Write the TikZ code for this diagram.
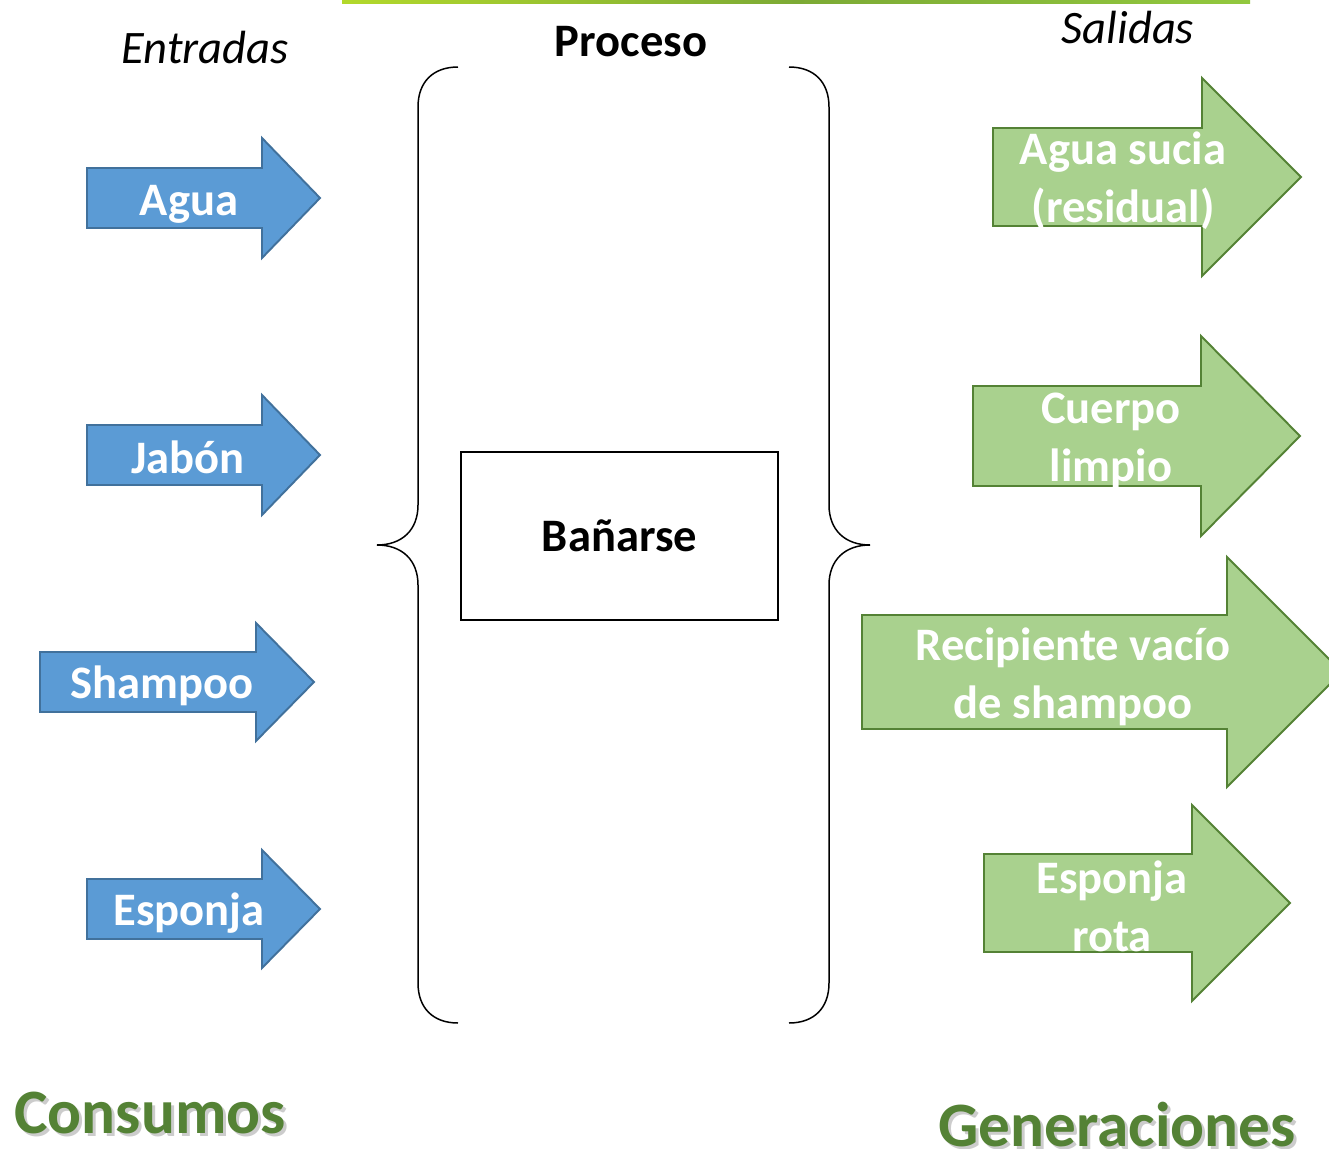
\documentclass[tikz,border=0pt]{standalone}
\usepackage{fontspec}
\setmainfont{Carlito}
\usetikzlibrary{positioning,calc}
\definecolor{blue(arrow)}{RGB}{91,155,213}
\definecolor{blue(edge)}{RGB}{65,113,156}
\definecolor{green(arrow)}{RGB}{169,209,142}
\definecolor{green(edge)}{RGB}{84,130,53}
\definecolor{lime(bar)}{RGB}{146,200,62}
% arrow shape: style, tail x, head x, tip x, centre y, half body, half head
\newcommand{\flecha}[7]{\draw[#1] (#2,#5-#6) -- (#3,#5-#6) -- (#3,#5-#7) -- (#4,#5)
    -- (#3,#5+#7) -- (#3,#5+#6) -- (#2,#5+#6) -- cycle;}

\begin{document}
\begin{tikzpicture}[x=0.02cm,y=-0.02cm,
                in arrow/.style={fill=blue(arrow),draw=blue(edge),line width=1.1pt},
                out arrow/.style={fill=green(arrow),draw=green(edge),line width=1.1pt},
                arrow text/.style={text=white,font=\fontsize{26.5}{33}\selectfont\bfseries,align=center},
                head text/.style={font=\fontsize{26.5}{33}\selectfont\itshape},
                big text/.style={font=\fontsize{36}{40}\selectfont\bfseries,inner sep=0pt},
                brace/.style={draw=black,line width=0.85pt}]
\useasboundingbox (0,0) rectangle (1329,1149);
\clip (0,0) rectangle (1329,1149);
%Bar
    \shade[left color=lime(bar)!70!yellow,right color=lime(bar),middle color=lime(bar)!85!black] (342,0) rectangle (1250,4);
%Arrows
    \flecha{in arrow}{87}{262}{320}{198}{30}{60}
    \flecha{in arrow}{87}{262}{320}{455}{30}{60}
    \flecha{in arrow}{40}{256}{314}{682}{30}{59}
    \flecha{in arrow}{87}{262}{320}{909}{30}{59}
    \flecha{out arrow}{993}{1202}{1301}{177}{49}{99}
    \flecha{out arrow}{973}{1201}{1300}{436}{50}{100}
    \flecha{out arrow}{862}{1227}{1342}{672}{57}{115}
    \flecha{out arrow}{984}{1192}{1290}{903}{49}{98}
%Braces
    \draw[brace] (458,67) .. controls (433,67) and (418,82) .. (418,107) -- (418,505)
        .. controls (418,530) and (402,545) .. (377,545) .. controls (402,545) and (418,560) .. (418,585)
        -- (418,983) .. controls (418,1008) and (433,1023) .. (458,1023);
    \draw[brace] (789,67) .. controls (814,67) and (829,82) .. (829,107) -- (829,505)
        .. controls (829,530) and (845,545) .. (870,545) .. controls (845,545) and (829,560) .. (829,585)
        -- (829,983) .. controls (829,1008) and (814,1023) .. (789,1023);
%Nodes
    \node[draw,line width=1.1pt,minimum width=6.34cm,minimum height=3.36cm,
          font=\fontsize{26.5}{33}\selectfont\bfseries] (banarse) at (619.5,536) {Bañarse};
    \node[head text] (entradas) at (205,48) {Entradas};
    \node[font=\fontsize{26.5}{33}\selectfont\bfseries] (proceso) at (631,42) {Proceso};
    \node[head text] (salidas) at (1128,28) {Salidas};

    \node[arrow text] (agua) at (189,204) {Agua};
    \node[arrow text] (jabon) at (188,457) {Jabón};
    \node[arrow text] (shampoo) at (162,686) {Shampoo};
    \node[arrow text] (esponja) at (189,913) {Esponja};

    \node[arrow text] (sucia) at (1123,181) {Agua sucia\\(residual)};
    \node[arrow text] (cuerpo) at (1111,441) {Cuerpo\\limpio};
    \node[arrow text] (recipiente) at (1073,677) {Recipiente vacío\\de shampoo};
    \node[arrow text] (rota) at (1112,906) {Esponja\\rota};

    \node[big text,text=black!20] at (153,1116) {Consumos};
    \node[big text,text=green(edge)] (consumos) at (150,1113) {Consumos};
    \node[big text,text=black!20] at (1120,1128) {Generaciones};
    \node[big text,text=green(edge)] (generaciones) at (1117,1125) {Generaciones};
\end{tikzpicture}
\end{document}
